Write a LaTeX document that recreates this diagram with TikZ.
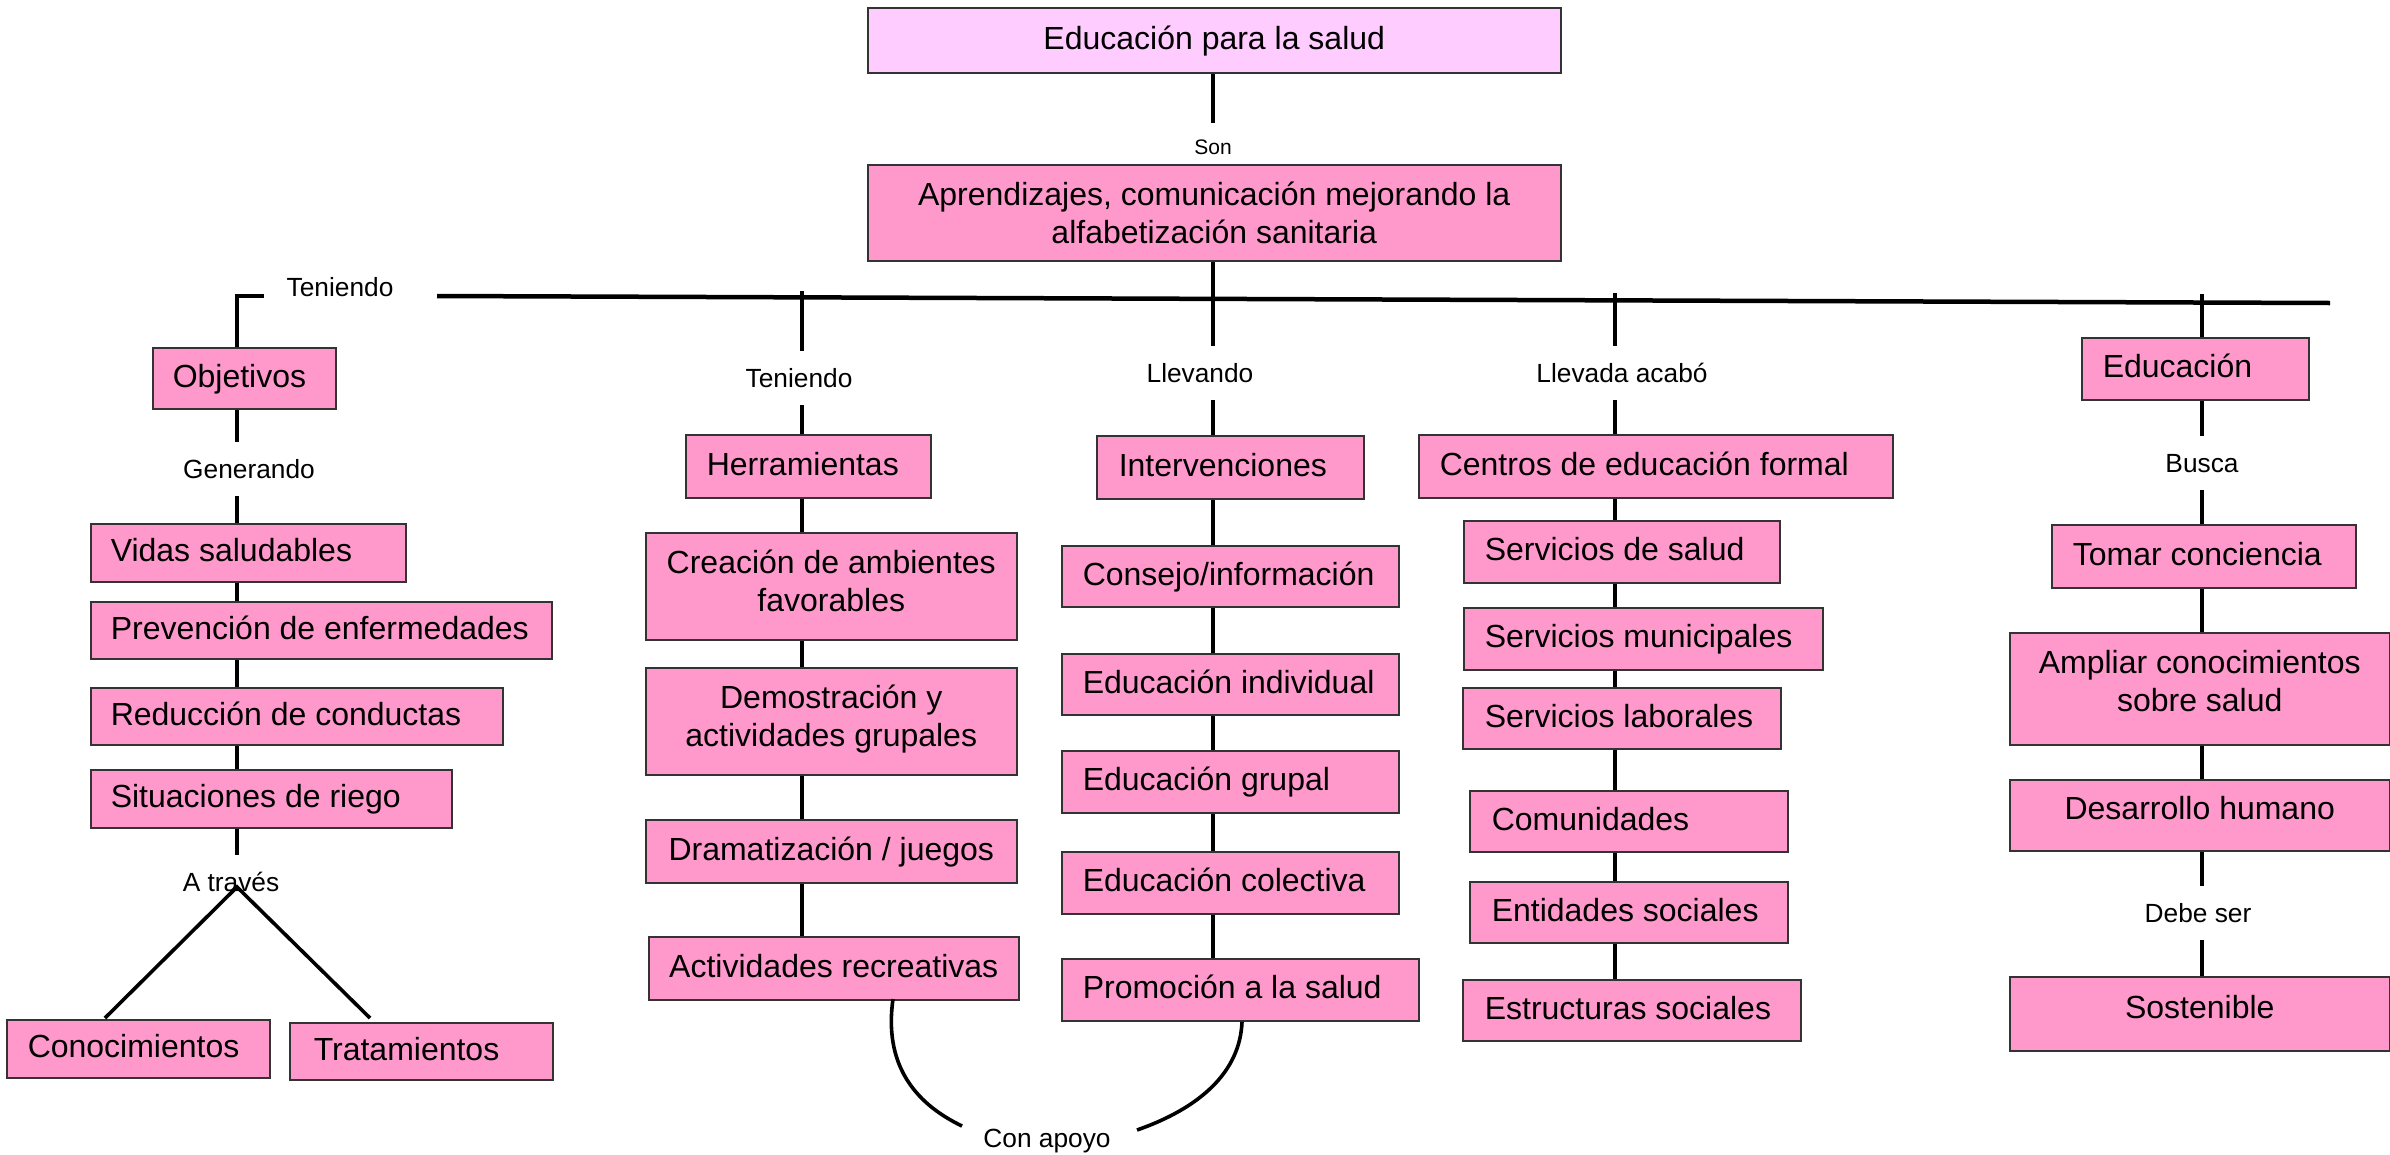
\documentclass[tikz,border=0pt]{standalone}
\usepackage{fontspec}
\setmainfont{Liberation Sans}
\newcommand\bigf{\fontsize{32}{38}\selectfont}
\newcommand\labf{\fontsize{26.3}{30}\selectfont}
\newcommand\sonf{\fontsize{21}{25}\selectfont}
\newcommand\tl[3]{\makebox[#1pt][l]{\hspace*{#2pt}#3}}
\newcommand\twol[2]{\begin{tabular}[t]{@{}c@{}}#1\\#2\end{tabular}}
\definecolor{pinkb}{HTML}{FF99CC}
\definecolor{pinkl}{HTML}{FFCCFF}
\begin{document}
\begin{tikzpicture}[x=1pt,y=-1pt,
  bx/.style={draw=black!80, line width=1.5pt, fill=pinkb, inner sep=0pt, anchor=north west, font=\bigf},
  one/.style={text height=26pt, text depth=8pt},
  raised/.style={text height=28pt, text depth=19pt},
  lab/.style={inner sep=0pt, minimum height=54pt, text height=19pt, text depth=0pt, font=\labf},
  conn/.style={line width=3.2pt, line cap=butt},
  thick line/.style={line width=4.5pt}]
\fill[white] (0,0) rectangle (2390,1154);
\useasboundingbox (0,0) rectangle (2390,1154);

% axes
\coordinate (ax1) at (237,0);
\coordinate (ax2) at (802,0);
\coordinate (ax3) at (1213,0);
\coordinate (ax4) at (1615,0);
\coordinate (ax5) at (2202,0);

% top boxes
\node[bx, one, fill=pinkl, minimum width=693pt, minimum height=65pt] (t1) at (867,7) {Educación para la salud};
\node[bx, align=center, minimum width=693pt, minimum height=96pt] (t2) at (867,164) {Aprendizajes, comunicación mejorando la\\alfabetización sanitaria};
\node[inner sep=0pt, minimum height=48pt, text height=15pt, text depth=0pt, font=\sonf] (son) at (1213,147) {Son};

% column 1
\node[bx, one, minimum width=183pt, minimum height=61pt] (obj) at (152,347) {\tl{183}{20}{Objetivos}};
\node[bx, one, minimum width=315pt, minimum height=58pt] (vid) at (90,523) {\tl{315}{20}{Vidas saludables}};
\node[bx, one, minimum width=461pt, minimum height=57pt] (pre) at (90,601) {\tl{461}{20}{Prevención de enfermedades}};
\node[bx, one, minimum width=412pt, minimum height=57pt] (red) at (90,687) {\tl{412}{20}{Reducción de conductas}};
\node[bx, one, minimum width=361pt, minimum height=58pt] (sit) at (90,769) {\tl{361}{20}{Situaciones de riego}};
\node[bx, one, minimum width=263pt, minimum height=58pt] (con) at (6,1019) {\tl{263}{21}{Conocimientos}};
\node[bx, one, minimum width=263pt, minimum height=57pt] (tra) at (289,1022) {\tl{263}{24}{Tratamientos}};
\node[lab] (ten1) at (340,287) {Teniendo};
\node[lab] (gen) at (249,469) {Generando};
\node[lab] (atr) at (231,882) {A través};

% column 2
\node[bx, one, minimum width=245pt, minimum height=63pt] (her) at (685,434) {\tl{245}{21}{Herramientas}};
\node[bx, text height=20pt, text depth=45pt, minimum width=371pt, minimum height=107pt] (cre) at (645,532) {\twol{Creación de ambientes}{favorables}};
\node[bx, text height=20pt, text depth=45pt, minimum width=371pt, minimum height=107pt] (dem) at (645,667) {\twol{Demostración y}{actividades grupales}};
\node[bx, one, minimum width=371pt, minimum height=63pt] (dra) at (645,819) {Dramatización / juegos};
\node[bx, one, minimum width=370pt, minimum height=63pt] (act) at (648,936) {Actividades recreativas};
\node[lab] (ten2) at (799,378) {Teniendo};

% column 3
\node[bx, one, minimum width=267pt, minimum height=63pt] (int) at (1096,435) {\tl{267}{22}{Intervenciones}};
\node[bx, one, minimum width=337pt, minimum height=61pt] (cons) at (1061,545) {\tl{337}{21}{Consejo/información}};
\node[bx, one, minimum width=337pt, minimum height=61pt] (ei) at (1061,653) {\tl{337}{21}{Educación individual}};
\node[bx, one, minimum width=337pt, minimum height=62pt] (eg) at (1061,750) {\tl{337}{21}{Educación grupal}};
\node[bx, one, minimum width=337pt, minimum height=62pt] (ec) at (1061,851) {\tl{337}{21}{Educación colectiva}};
\node[bx, one, minimum width=357pt, minimum height=62pt] (pro) at (1061,958) {\tl{357}{21}{Promoción a la salud}};
\node[lab] (lle) at (1200,373) {Llevando};
\node[lab] (cap) at (1047,1138) {Con apoyo};

% column 4
\node[bx, one, minimum width=474pt, minimum height=63pt] (cen) at (1418,434) {\tl{474}{21}{Centros de educación formal}};
\node[bx, one, minimum width=316pt, minimum height=62pt] (ss) at (1463,520) {\tl{316}{21}{Servicios de salud}};
\node[bx, one, minimum width=359pt, minimum height=62pt] (sm) at (1463,607) {\tl{359}{21}{Servicios municipales}};
\node[bx, one, minimum width=318pt, minimum height=61pt] (sl) at (1462,687) {\tl{318}{22}{Servicios laborales}};
\node[bx, one, minimum width=318pt, minimum height=61pt] (com) at (1469,790) {\tl{318}{22}{Comunidades}};
\node[bx, one, minimum width=318pt, minimum height=61pt] (ent) at (1469,881) {\tl{318}{22}{Entidades sociales}};
\node[bx, one, minimum width=338pt, minimum height=61pt] (est) at (1462,979) {\tl{338}{22}{Estructuras sociales}};
\node[lab] (lla) at (1622,373) {Llevada acabó};

% column 5
\node[bx, one, minimum width=227pt, minimum height=62pt] (edu) at (2081,337) {\tl{227}{21}{Educación}};
\node[bx, one, minimum width=304pt, minimum height=63pt] (tom) at (2051,524) {\tl{304}{21}{Tomar conciencia}};
\node[bx, text height=20pt, text depth=50pt, minimum width=380pt, minimum height=112pt] (amp) at (2009,632) {\twol{Ampliar conocimientos}{sobre salud}};
\node[bx, raised, minimum width=380pt, minimum height=71pt] (des) at (2009,779) {Desarrollo humano};
\node[bx, raised, minimum width=380pt, minimum height=74pt] (sos) at (2009,976) {Sostenible};
\node[lab] (bus) at (2202,463) {Busca};
\node[lab] (deb) at (2198,913) {Debe ser};

% free ends
\coordinate (hl) at (437,296);
\coordinate (hr) at (2330,303);
\coordinate (brk) at (264,296);
\coordinate (k2) at (802,291);
\coordinate (k4) at (1615,293);
\coordinate (k5) at (2202,294);
\coordinate (apex) at (237,887);
\coordinate (cL) at (105,1018);
\coordinate (cR) at (370,1018);
\coordinate (cs1) at (893,999);
\coordinate (ce1) at (962,1126);
\coordinate (cs2) at (1242,1022);
\coordinate (ce2) at (1137,1130);

% main horizontal
\draw[thick line] (hl) -- (hr);

% top
\draw[conn] (t1.south -| ax3) -- (son.north -| ax3);

% column 1
\draw[conn] (obj.north -| ax1) |- (brk);
\draw[conn] (obj.south -| ax1) -- (gen.north -| ax1);
\draw[conn] (gen.south -| ax1) -- (vid.north -| ax1);
\draw[conn] (vid.south -| ax1) -- (pre.north -| ax1);
\draw[conn] (pre.south -| ax1) -- (red.north -| ax1);
\draw[conn] (red.south -| ax1) -- (sit.north -| ax1);
\draw[conn] (sit.south -| ax1) -- (atr.north -| ax1);
\draw[conn, line width=3.6pt] (cL) -- (apex) -- (cR);

% column 2
\draw[conn] (k2) -- (ten2.north -| ax2);
\draw[conn] (ten2.south -| ax2) -- (her.north -| ax2);
\draw[conn] (her.south -| ax2) -- (cre.north -| ax2);
\draw[conn] (cre.south -| ax2) -- (dem.north -| ax2);
\draw[conn] (dem.south -| ax2) -- (dra.north -| ax2);
\draw[conn] (dra.south -| ax2) -- (act.north -| ax2);

% column 3
\draw[conn] (t2.south -| ax3) -- (lle.north -| ax3);
\draw[conn] (lle.south -| ax3) -- (int.north -| ax3);
\draw[conn] (int.south -| ax3) -- (cons.north -| ax3);
\draw[conn] (cons.south -| ax3) -- (ei.north -| ax3);
\draw[conn] (ei.south -| ax3) -- (eg.north -| ax3);
\draw[conn] (eg.south -| ax3) -- (ec.north -| ax3);
\draw[conn] (ec.south -| ax3) -- (pro.north -| ax3);

% con apoyo
\draw[conn, line width=3.6pt] (cs1) .. controls (884,1062) and (912,1102) .. (ce1);
\draw[conn, line width=3.6pt] (cs2) .. controls (1240,1072) and (1200,1108) .. (ce2);

% column 4
\draw[conn] (k4) -- (lla.north -| ax4);
\draw[conn] (lla.south -| ax4) -- (cen.north -| ax4);
\draw[conn] (cen.south -| ax4) -- (ss.north -| ax4);
\draw[conn] (ss.south -| ax4) -- (sm.north -| ax4);
\draw[conn] (sm.south -| ax4) -- (sl.north -| ax4);
\draw[conn] (sl.south -| ax4) -- (com.north -| ax4);
\draw[conn] (com.south -| ax4) -- (ent.north -| ax4);
\draw[conn] (ent.south -| ax4) -- (est.north -| ax4);

% column 5
\draw[conn] (k5) -- (edu.north -| ax5);
\draw[conn] (edu.south -| ax5) -- (bus.north -| ax5);
\draw[conn] (bus.south -| ax5) -- (tom.north -| ax5);
\draw[conn] (tom.south -| ax5) -- (amp.north -| ax5);
\draw[conn] (amp.south -| ax5) -- (des.north -| ax5);
\draw[conn] (des.south -| ax5) -- (deb.north -| ax5);
\draw[conn] (deb.south -| ax5) -- (sos.north -| ax5);
\end{tikzpicture}
\end{document}
